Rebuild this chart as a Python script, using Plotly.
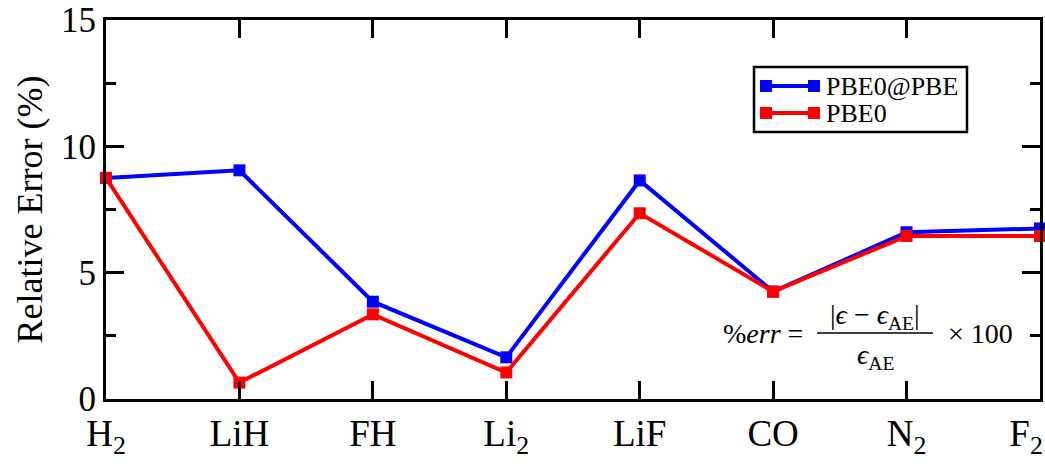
import plotly.graph_objects as go

categories = ["H<sub>2</sub>", "LiH", "FH", "Li<sub>2</sub>", "LiF", "CO", "N<sub>2</sub>",
              "F<sub>2</sub>\u00a0\u00a0\u00a0"]
x_pos = [0, 1, 2, 3, 4, 5, 6, 7]
pbe0_at_pbe = [8.75, 9.05, 3.85, 1.65, 8.65, 4.25, 6.6, 6.75]
pbe0 = [8.75, 0.65, 3.35, 1.05, 7.35, 4.25, 6.45, 6.45]
y_ticks = [0, 5, 10, 15]
series_names = ["PBE0@PBE", "PBE0"]
series_colors = ["#0000ff", "#ff0000"]

FONT = "Liberation Serif"

fig = go.Figure()
for name, vals, col in zip(series_names, [pbe0_at_pbe, pbe0], series_colors):
    fig.add_trace(go.Scatter(x=x_pos, y=vals, mode="lines+markers", name=name,
                             line=dict(color=col, width=4),
                             marker=dict(symbol="square", size=12, color=col),
                             cliponaxis=False, showlegend=False))

L, R, T, B = 106, 5, 20, 66
W, H = 1045, 465
pw, ph = W - L - R, H - T - B


def px(xp):
    return (xp - L) / pw


def py(yp):
    return (H - B - yp) / ph


fig.update_layout(
    width=W, height=H,
    margin=dict(l=L, r=R, t=T, b=B, autoexpand=False),
    paper_bgcolor="white", plot_bgcolor="white",
    font=dict(family=FONT, color="black", size=36),
    showlegend=False,
    xaxis=dict(range=[0, 7], tickmode="array", tickvals=x_pos, ticktext=categories,
               showgrid=False, zeroline=False, showline=True, linecolor="black", linewidth=3,
               mirror="ticks", ticks="inside", ticklen=18, tickwidth=3, tickcolor="black",
               ticklabeloverflow="allow", automargin=False,
               tickfont=dict(size=37, family=FONT)),
    yaxis=dict(range=[0, 15], tickmode="array", tickvals=y_ticks,
               showgrid=False, zeroline=False, showline=True, linecolor="black", linewidth=3,
               mirror="ticks", ticks="inside", ticklen=18, tickwidth=3, tickcolor="black",
               tickfont=dict(size=35, family=FONT), automargin=False,
               minor=dict(dtick=2.5, tick0=0, ticks="inside", ticklen=10, tickwidth=3, tickcolor="black"),
               title=dict(text="Relative Error (%)", font=dict(size=36, family=FONT), standoff=8)),
)

# legend box (drawn to match the reference key: line with square at both ends)
fig.add_shape(type="rect", xref="paper", yref="paper", x0=px(754), x1=px(967), y0=py(132), y1=py(67),
              line=dict(color="black", width=2.5), fillcolor="white", layer="above")
for i, (name, col) in enumerate(zip(series_names, series_colors)):
    yc = 86 + i * 27
    fig.add_shape(type="line", xref="paper", yref="paper", x0=px(766), x1=px(814), y0=py(yc), y1=py(yc),
                  line=dict(color=col, width=4), layer="above")
    for xc in (766, 814):
        fig.add_shape(type="rect", xref="paper", yref="paper", x0=px(xc - 6), x1=px(xc + 6),
                      y0=py(yc + 6), y1=py(yc - 6), line=dict(width=0), fillcolor=col, layer="above")
    fig.add_annotation(x=px(824), y=py(yc), xref="paper", yref="paper", xanchor="left", yanchor="middle",
                       text=name, showarrow=False, font=dict(size=26, family=FONT, color="black"))

ann_font = dict(size=28, family=FONT, color="black")
fig.add_annotation(x=px(805), y=py(333), xref="paper", yref="paper", xanchor="right", yanchor="middle",
                   text="%<i>err</i> =", showarrow=False, font=ann_font)
fig.add_annotation(x=px(875), y=py(316), xref="paper", yref="paper", xanchor="center", yanchor="middle",
                   text="|<i>ϵ</i> − <i>ϵ</i><sub>AE</sub>|", showarrow=False, font=ann_font)
fig.add_annotation(x=px(875), y=py(356), xref="paper", yref="paper", xanchor="center", yanchor="middle",
                   text="<i>ϵ</i><sub>AE</sub>", showarrow=False, font=ann_font)
fig.add_annotation(x=px(946), y=py(333), xref="paper", yref="paper", xanchor="left", yanchor="middle",
                   text="× 100", showarrow=False, font=ann_font)
fig.add_shape(type="line", xref="paper", yref="paper", x0=px(817), x1=px(933), y0=py(333), y1=py(333),
              line=dict(color="black", width=1.5))

fig.write_html("out.html")
